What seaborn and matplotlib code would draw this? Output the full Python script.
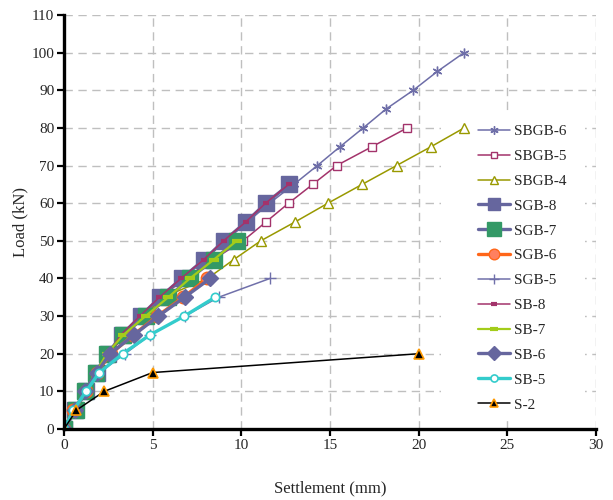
import numpy as np
import pandas as pd
import matplotlib
matplotlib.use("Agg")
import matplotlib.pyplot as plt
from matplotlib.patches import Rectangle
import seaborn as sns

# load steps (kN) and settlements (mm)
loads_100 = [0, 5, 10, 15, 20, 25, 30, 35, 40, 45, 50, 55, 60, 65, 70, 75, 80, 85, 90, 95, 100]
sbgb6 = [0, 0.6, 1.2, 1.85, 2.5, 3.25, 4.3, 5.4, 6.6, 7.9, 9.1, 10.35, 11.6, 12.97,
         14.29, 15.57, 16.88, 18.16, 19.7, 21.06, 22.57]
loads_80 = loads_100[:17]
sbgb5 = [0, 0.6, 1.2, 1.9, 2.6, 3.4, 4.4, 5.5, 6.8, 8.4, 10.1, 11.39, 12.67, 14.03,
         15.38, 17.37, 19.36]
sbgb4 = [0, 0.6, 1.2, 1.85, 2.55, 3.4, 4.5, 5.6, 8.1, 9.57, 11.1, 13.03, 14.89, 16.82,
         18.76, 20.7, 22.57]
loads_65 = loads_100[:14]
sgb8 = [0, 0.62, 1.24, 1.86, 2.5, 3.25, 4.32, 5.41, 6.64, 7.9, 9.02, 10.27, 11.39, 12.71]
sb8 = [0, 0.6, 1.22, 1.85, 2.48, 3.2, 4.28, 5.38, 6.6, 7.88, 9.0, 10.25, 11.37, 12.68]
loads_50 = loads_100[:11]
sgb7 = [0, 0.68, 1.18, 1.8, 2.41, 3.35, 4.6, 5.88, 7.1, 8.45, 9.74]
sb7 = [0, 0.68, 1.18, 1.8, 2.41, 3.35, 4.6, 5.88, 7.1, 8.45, 9.74]
loads_40 = loads_100[:9]
sgb6 = [0, 0.53, 1.24, 1.84, 2.65, 3.91, 5.26, 6.73, 8.08]
sb6 = [0, 0.6, 1.18, 1.84, 2.6, 3.95, 5.32, 6.8, 8.25]
sgb5 = [0, 0.6, 1.3, 2.0, 3.45, 4.85, 6.82, 8.72, 11.62]
loads_35 = loads_100[:8]
sb5 = [0, 0.53, 1.24, 1.99, 3.31, 4.85, 6.79, 8.52]
loads_20 = [0, 5, 10, 15, 20]
s2 = [0, 0.7, 2.27, 5.0, 20.0]

series = [
    ("SBGB-6", sbgb6, loads_100),
    ("SBGB-5", sbgb5, loads_80),
    ("SBGB-4", sbgb4, loads_80),
    ("SGB-8", sgb8, loads_65),
    ("SGB-7", sgb7, loads_50),
    ("SGB-6", sgb6, loads_40),
    ("SGB-5", sgb5, loads_40),
    ("SB-8", sb8, loads_65),
    ("SB-7", sb7, loads_50),
    ("SB-6", sb6, loads_40),
    ("SB-5", sb5, loads_35),
    ("S-2", s2, loads_20),
]

df = pd.concat([pd.DataFrame({"name": n, "settlement": s, "load": l}) for n, s, l in series],
               ignore_index=True)

styles = {
    "SBGB-6": dict(color="#6E6EA8", lw=1.1, marker=(6, 2, 0), ms=7, mfc="none", mec="#6E6EA8", mew=1.0),
    "SBGB-5": dict(color="#A3336B", lw=1.1, marker="s", ms=5.5, mfc="white", mec="#A3336B", mew=1.0),
    "SBGB-4": dict(color="#999900", lw=1.1, marker="^", ms=6.5, mfc="white", mec="#999900", mew=1.0),
    "SGB-8": dict(color="#66669E", lw=2.4, marker="s", ms=11, mfc="#66669E", mec="#66669E", mew=1.0),
    "SGB-7": dict(color="#66669E", lw=2.4, marker="s", ms=12, mfc="#339966", mec="#339966", mew=1.0),
    "SGB-6": dict(color="#FF6619", lw=2.4, marker="o", ms=9, mfc="#FF8060", mec="#FF6619", mew=1.0),
    "SGB-5": dict(color="#7070AA", lw=1.1, marker="+", ms=9, mfc="none", mec="#7070AA", mew=1.0),
    "SB-8": dict(color="#A3336B", lw=1.1, marker="_", ms=5, mfc="#A3336B", mec="#A3336B", mew=3.0),
    "SB-7": dict(color="#A3CC1A", lw=1.6, marker="_", ms=7, mfc="#A3CC1A", mec="#A3CC1A", mew=3.0),
    "SB-6": dict(color="#66669E", lw=2.4, marker="D", ms=8.5, mfc="#66669E", mec="#66669E", mew=1.0),
    "SB-5": dict(color="#33CCCC", lw=2.4, marker="o", ms=6, mfc="white", mec="#33CCCC", mew=1.2),
    "S-2": dict(color="black", lw=1.1, marker="^", ms=6.5, mfc="black", mec="#FF9900", mew=1.2),
}

sns.set_style("white")
plt.rcParams["font.family"] = ["Liberation Serif", "DejaVu Serif"]

fig = plt.figure(figsize=(6.13, 5.0), dpi=100)
ax = fig.add_axes([0.1044, 0.142, 0.8676, 0.828])

for name, _, _ in series:
    st = styles[name]
    sub = df[df["name"] == name]
    sns.lineplot(data=sub, x="settlement", y="load", ax=ax, estimator=None, sort=False,
                 color=st["color"], linewidth=st["lw"], marker=st["marker"],
                 markersize=st["ms"], markerfacecolor=st["mfc"],
                 markeredgecolor=st["mec"], markeredgewidth=st["mew"], label=name)

ax.set_xlim(0, 30)
ax.set_ylim(0, 110)
ax.set_xticks(np.arange(0, 31, 5))
ax.set_yticks(np.arange(0, 111, 10))
ax.grid(True, color="#BFBFBF", linestyle=(0, (6, 4)), linewidth=1.0)
ax.set_axisbelow(True)

# white legend area that hides the grid but sits under the data lines
ax.add_patch(Rectangle((0.709, 0.031), 0.27, 0.732, transform=ax.transAxes,
                       facecolor="white", edgecolor="none", zorder=1))

for side in ["top", "right"]:
    ax.spines[side].set_visible(False)
for side in ["left", "bottom"]:
    ax.spines[side].set_linewidth(2.4)
    ax.spines[side].set_color("black")

ax.tick_params(axis="both", direction="out", length=5, width=1.6, color="black",
               labelsize=11, pad=2, left=True, bottom=True)
ax.set_xlabel("Settlement (mm)", fontsize=12, labelpad=21)
ax.set_ylabel("Load (kN)", fontsize=12, labelpad=2)

leg = ax.legend(loc="upper left", bbox_to_anchor=(0.755, 0.765), frameon=False,
                fontsize=11, handlelength=2.1, labelspacing=0.73, borderpad=0.3,
                handletextpad=0.25, markerscale=0.85)
for t in leg.get_texts():
    t.set_family(["Liberation Serif", "DejaVu Serif"])

fig.savefig("out.png", dpi=100)
